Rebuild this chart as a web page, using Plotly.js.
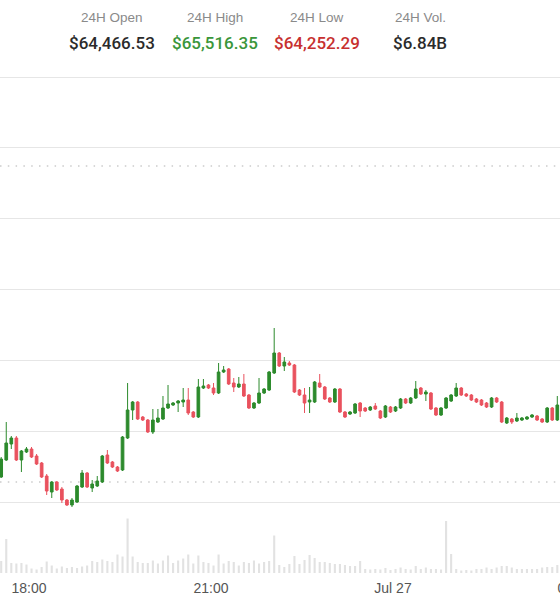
<!DOCTYPE html>
<html><head><meta charset="utf-8">
<script src="https://cdn.plot.ly/plotly-3.0.1.min.js"></script>
<style>html,body{margin:0;padding:0;overflow:hidden;background:#fff;width:560px;height:600px}#chart{width:640px;height:600px}</style>
</head><body><div id="chart"></div><script>
// 5-minute candles
const startTime = '2024-07-26T17:32:30Z';
const intervalMin = 5;
const openP = [64523,64540,64556,64562,64540,64548,64551,64544,64537,64524,64508,64518,64511,64500,64495,64498,64513,64527,64512,64514,64518,64545,64538,64533,64530,64562,64590,64598,64583,64580,64568,64578,64581,64592,64595,64597,64598,64600,64588,64583,64612,64615,64612,64607,64628,64631,64617,64613,64616,64605,64592,64597,64607,64610,64627,64647,64634,64637,64635,64610,64605,64598,64598,64617,64613,64602,64598,64611,64588,64586,64587,64597,64592,64590,64594,64589,64583,64593,64589,64592,64601,64597,64602,64612,64606,64607,64592,64585,64592,64599,64604,64612,64606,64605,64601,64600,64597,64593,64602,64598,64577,64581,64579,64580,64581,64583,64584,64581,64578,64592,64580];
const highP = [64543,64578,64564,64564,64550,64553,64553,64546,64538,64526,64519,64519,64513,64501,64502,64515,64530,64528,64520,64524,64545,64550,64539,64534,64564,64617,64599,64599,64584,64581,64591,64591,64604,64615,64598,64600,64612,64612,64589,64621,64621,64616,64617,64637,64634,64632,64622,64623,64626,64606,64598,64622,64612,64629,64672,64648,64643,64639,64636,64611,64612,64613,64619,64626,64614,64603,64612,64612,64589,64589,64597,64598,64593,64594,64597,64590,64595,64594,64594,64602,64602,64603,64619,64613,64610,64608,64593,64593,64603,64606,64617,64613,64607,64606,64602,64601,64598,64603,64603,64599,64583,64582,64587,64583,64584,64586,64585,64582,64593,64593,64604];
const lowP = [64522,64539,64551,64539,64528,64547,64542,64535,64522,64505,64502,64509,64497,64494,64493,64497,64512,64512,64508,64513,64517,64536,64532,64528,64529,64561,64580,64580,64579,64567,64566,64577,64580,64591,64594,64588,64593,64585,64582,64582,64611,64611,64605,64606,64627,64615,64608,64612,64603,64591,64591,64596,64606,64609,64626,64633,64629,64634,64607,64604,64587,64587,64597,64612,64600,64597,64597,64587,64582,64585,64586,64583,64588,64589,64590,64581,64582,64587,64588,64591,64596,64596,64601,64605,64599,64590,64584,64584,64591,64598,64603,64604,64603,64599,64597,64594,64592,64592,64597,64577,64576,64576,64578,64579,64580,64582,64579,64577,64577,64579,64579];
const closeP = [64541,64557,64562,64540,64549,64551,64543,64536,64523,64509,64518,64510,64500,64495,64500,64514,64527,64513,64516,64519,64544,64537,64533,64529,64563,64590,64598,64581,64580,64568,64580,64582,64592,64596,64597,64599,64600,64587,64583,64613,64614,64612,64607,64628,64630,64616,64613,64616,64604,64592,64597,64607,64611,64628,64647,64634,64638,64635,64608,64605,64597,64600,64618,64613,64601,64598,64611,64588,64583,64588,64596,64589,64589,64593,64591,64582,64594,64588,64593,64601,64597,64602,64611,64606,64608,64591,64585,64592,64602,64605,64612,64605,64604,64600,64598,64595,64593,64602,64598,64578,64582,64578,64582,64582,64583,64585,64580,64578,64592,64580,64595];
const volume = [120,340,100,95,100,85,45,35,60,115,75,45,65,50,60,50,65,75,120,110,135,120,110,185,165,545,165,110,100,100,125,95,125,175,100,125,145,185,95,175,110,100,75,185,95,120,110,75,110,100,125,95,110,120,375,80,60,90,170,90,130,180,150,110,110,100,90,90,80,70,70,120,40,35,40,35,50,30,40,55,40,35,70,40,55,40,40,35,520,190,40,25,30,25,40,40,55,40,55,70,70,55,40,40,40,40,40,55,60,60,80];

const gridLevels = [64923, 64852.2, 64781.3, 64710.5, 64639.7, 64568.8, 64498];
const refLevels = [64834, 64518];
const tickTimes = ['2024-07-26 18:00:00','2024-07-26 21:00:00','2024-07-27 00:00:00','2024-07-27 03:00:00'];
const tickLabels = ['18:00','21:00','Jul 27','03:00'];
const statLabels = ['24H Open','24H High','24H Low','24H Vol.'];
const statValues = ['$64,466.53','$65,516.35','$64,252.29','$6.84B'];

const statColors = ['#2b2b2b','#3a963a','#c7302f','#2b2b2b'];
const statX = [112,215,317,420];
const W = 640, H = 600, B = 25, PH = H - B;

function fmt(ms){const d=new Date(ms);const p=n=>String(n).padStart(2,'0');
  return d.getUTCFullYear()+'-'+p(d.getUTCMonth()+1)+'-'+p(d.getUTCDate())+' '+p(d.getUTCHours())+':'+p(d.getUTCMinutes())+':'+p(d.getUTCSeconds());}
const t0 = Date.parse(startTime);
const times = openP.map((_, i) => fmt(t0 + i*intervalMin*60000));

const GREEN = '#2c8a2c', RED = '#e9525e';

const traces = [
  {type:'bar', x: times, y: volume, yaxis:'y2', width: 125000,
   marker:{color:'#e2e2e2', line:{width:0}}, hoverinfo:'skip'},
  {type:'candlestick', x: times, open: openP, high: highP, low: lowP, close: closeP,
   increasing:{line:{color:GREEN, width:1}, fillcolor:GREEN},
   decreasing:{line:{color:RED, width:1}, fillcolor:RED},
   whiskerwidth:0, hoverinfo:'skip'}
];

const annotations = [];
statLabels.forEach((s,i)=>{
  annotations.push({text:s, xref:'paper', yref:'paper', x: statX[i]/W, y:(PH-18)/PH,
    xanchor:'center', yanchor:'middle', showarrow:false,
    font:{family:'Liberation Sans, Arial, sans-serif', size:13.5, color:'#8a8a8a'}});
  annotations.push({text:statValues[i], xref:'paper', yref:'paper', x: statX[i]/W, y:(PH-43)/PH,
    xanchor:'center', yanchor:'middle', showarrow:false,
    font:{family:'Roboto, Liberation Sans, Arial, sans-serif', size:17, weight:500, color:statColors[i]}});
});

const shapes = refLevels.map(v => ({type:'line', xref:'paper', x0:0, x1:1, yref:'y', y0:v, y1:v,
  line:{color:'#cbcbcb', width:1.5, dash:'1.5px,6.3px'}, layer:'below'}));

const layout = {
  width: W, height: H,
  margin:{l:0, r:0, t:0, b:B, pad:0},
  paper_bgcolor:'#fff', plot_bgcolor:'#fff',
  showlegend:false, boxgap:0.25,
  font:{family:'Liberation Sans, Arial, sans-serif'},
  xaxis:{type:'date', range:['2024-07-26 17:31:19','2024-07-27 04:04:17'],
    rangeslider:{visible:false}, showgrid:false, zeroline:false, showline:false,
    ticks:'', tickmode:'array', tickvals: tickTimes, ticktext: tickLabels, ticklabelstandoff:3,
    tickfont:{size:14, color:'#555555'}, fixedrange:true},
  yaxis:{domain:[0,1], range:[65000-PH, 65000], tickmode:'array', tickvals: gridLevels,
    showticklabels:false, showgrid:true, gridcolor:'#e6e6e6', gridwidth:1,
    zeroline:false, showline:false, ticks:'', fixedrange:true},
  yaxis2:{domain:[2/PH, 62/PH], range:[0,600], anchor:'x', visible:false, showgrid:false, fixedrange:true},
  annotations, shapes
};

Plotly.newPlot('chart', traces, layout, {staticPlot:true, displayModeBar:false});
</script></body></html>
